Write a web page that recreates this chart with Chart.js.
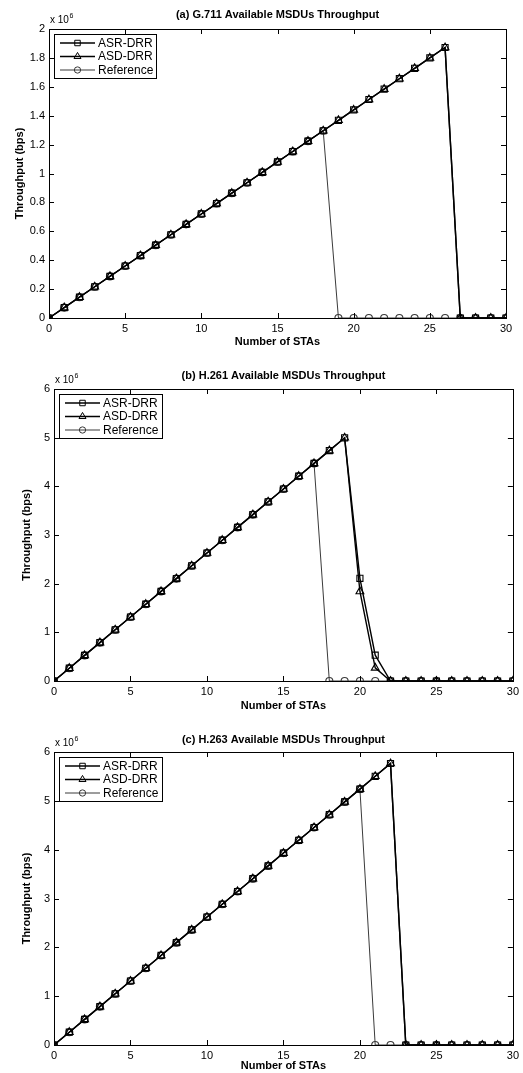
<!DOCTYPE html>
<html>
<head>
<meta charset="utf-8">
<script src="https://cdn.jsdelivr.net/npm/chart.js@4/dist/chart.umd.min.js"></script>
<style>
  html, body { margin: 0; padding: 0; background: #fff; }
  body { width: 523px; height: 1073px; position: relative; overflow: hidden; }
  .box { position: absolute; left: 0; width: 523px; }
</style>
</head>
<body>
<div class="box" style="top:0px;height:355px"><canvas id="cA"></canvas></div>
<div class="box" style="top:360px;height:360px"><canvas id="cB"></canvas></div>
<div class="box" style="top:720px;height:353px"><canvas id="cC"></canvas></div>
<script>
// ---------------- DATA ----------------
const staCounts = [0,1,2,3,4,5,6,7,8,9,10,11,12,13,14,15,16,17,18,19,20,21,22,23,24,25,26,27,28,29,30];
const xTickValues = [0,5,10,15,20,25,30];
const seriesNames = ['ASR-DRR','ASD-DRR','Reference'];

// (a) G.711
const g711Title = '(a) G.711 Available MSDUs Throughput';
const g711Asr = [0,72000,144000,216000,288000,360000,432000,504000,576000,648000,720000,792000,864000,936000,1008000,1080000,1152000,1224000,1296000,1368000,1440000,1512000,1584000,1656000,1728000,1800000,1872000,0,0,0,0];
const g711Asd = [0,72000,144000,216000,288000,360000,432000,504000,576000,648000,720000,792000,864000,936000,1008000,1080000,1152000,1224000,1296000,1368000,1440000,1512000,1584000,1656000,1728000,1800000,1872000,0,0,0,0];
const g711Ref = [0,72000,144000,216000,288000,360000,432000,504000,576000,648000,720000,792000,864000,936000,1008000,1080000,1152000,1224000,1296000,0,0,0,0,0,0,0,0,0,0,0,0];
const g711YTicks = [0,200000,400000,600000,800000,1000000,1200000,1400000,1600000,1800000,2000000];
const g711YLabels = ['0','0.2','0.4','0.6','0.8','1','1.2','1.4','1.6','1.8','2'];

// (b) H.261
const h261Title = '(b) H.261 Available MSDUs Throughput';
const h261Asr = [0,263000,526000,789000,1052000,1315000,1578000,1841000,2104000,2367000,2630000,2893000,3156000,3419000,3682000,3945000,4208000,4471000,4734000,4997000,2110000,530000,0,0,0,0,0,0,0,0,0];
const h261Asd = [0,263000,526000,789000,1052000,1315000,1578000,1841000,2104000,2367000,2630000,2893000,3156000,3419000,3682000,3945000,4208000,4471000,4734000,4997000,1840000,270000,0,0,0,0,0,0,0,0,0];
const h261Ref = [0,263000,526000,789000,1052000,1315000,1578000,1841000,2104000,2367000,2630000,2893000,3156000,3419000,3682000,3945000,4208000,4471000,0,0,0,0,0,0,0,0,0,0,0,0,0];
const h261YTicks = [0,1000000,2000000,3000000,4000000,5000000,6000000];
const h261YLabels = ['0','1','2','3','4','5','6'];

// (c) H.263
const h263Title = '(c) H.263 Available MSDUs Throughput';
const h263Asr = [0,262000,524000,786000,1048000,1310000,1572000,1834000,2096000,2358000,2620000,2882000,3144000,3406000,3668000,3930000,4192000,4454000,4716000,4978000,5240000,5502000,5764000,0,0,0,0,0,0,0,0];
const h263Asd = [0,262000,524000,786000,1048000,1310000,1572000,1834000,2096000,2358000,2620000,2882000,3144000,3406000,3668000,3930000,4192000,4454000,4716000,4978000,5240000,5502000,5764000,0,0,0,0,0,0,0,0];
const h263Ref = [0,262000,524000,786000,1048000,1310000,1572000,1834000,2096000,2358000,2620000,2882000,3144000,3406000,3668000,3930000,4192000,4454000,4716000,4978000,5240000,0,0,0,0,0,0,0,0,0,0];
const h263YTicks = [0,1000000,2000000,3000000,4000000,5000000,6000000];
const h263YLabels = ['0','1','2','3','4','5','6'];

const xLabel = 'Number of STAs';
const yLabel = 'Throughput (bps)';
const exponentText = 'x 10';
const exponentSup = '6';

// ---------------- RENDERING ----------------
const FONT = '"Liberation Sans", Arial, Helvetica, sans-serif';
const styles = [
  { pointStyle: 'rect', radius: 4.3, color: '#000', width: 1.4 },
  { pointStyle: 'triangle', radius: 4.5, color: '#000', width: 1.4 },
  { pointStyle: 'circle', radius: 3.5, color: '#3a3a3a', width: 1 }
];

function drawMarker(ctx, style, x, y, r) {
  ctx.beginPath();
  if (style === 'rect') {
    const s = r * Math.SQRT1_2;
    ctx.rect(x - s, y - s, 2 * s, 2 * s);
  } else if (style === 'triangle') {
    ctx.moveTo(x, y - r);
    ctx.lineTo(x + r * 0.866, y + r * 0.5);
    ctx.lineTo(x - r * 0.866, y + r * 0.5);
    ctx.closePath();
  } else {
    ctx.arc(x, y, r, 0, Math.PI * 2);
  }
  ctx.stroke();
}

function makeChart(id, cfg) {
  const canvas = document.getElementById(id);
  const decoPlugin = {
    id: 'deco' + id,
    afterDraw(chart) {
      const ctx = chart.ctx;
      const a = chart.chartArea;
      const xs = chart.scales.x, ys = chart.scales.y;
      ctx.save();
      ctx.strokeStyle = '#000';
      ctx.lineWidth = 1;
      // box
      ctx.strokeRect(Math.round(a.left) + 0.5, Math.round(a.top) + 0.5,
        Math.round(a.right - a.left), Math.round(a.bottom - a.top));
      // inward ticks
      ctx.beginPath();
      cfg.xTicks.forEach(v => {
        const px = Math.round(xs.getPixelForValue(v)) + 0.5;
        ctx.moveTo(px, a.bottom); ctx.lineTo(px, a.bottom - 5);
        ctx.moveTo(px, a.top); ctx.lineTo(px, a.top + 5);
      });
      cfg.yTicks.forEach(v => {
        const py = Math.round(ys.getPixelForValue(v)) + 0.5;
        ctx.moveTo(a.left, py); ctx.lineTo(a.left + 5, py);
        ctx.moveTo(a.right, py); ctx.lineTo(a.right - 5, py);
      });
      ctx.stroke();
      // title
      ctx.fillStyle = '#000';
      ctx.font = 'bold 11px ' + FONT;
      ctx.textAlign = 'center';
      ctx.textBaseline = 'middle';
      ctx.fillText(cfg.title, (a.left + a.right) / 2, a.top - cfg.titleOffset);
      // exponent
      ctx.textAlign = 'left';
      ctx.textBaseline = 'alphabetic';
      ctx.font = '10px ' + FONT;
      ctx.fillText(exponentText, a.left + 1, a.top - 6);
      const w = ctx.measureText(exponentText).width;
      ctx.font = '7px ' + FONT;
      ctx.fillText(exponentSup, a.left + 1 + w + 0.5, a.top - 11);
      // legend
      const lx = a.left + 5, ly = a.top + 5, lw = cfg.legendW, lh = 44;
      ctx.fillStyle = '#fff';
      ctx.fillRect(lx, ly, lw, lh);
      ctx.strokeStyle = '#000';
      ctx.lineWidth = 1;
      ctx.strokeRect(Math.round(lx) + 0.5, Math.round(ly) + 0.5, lw, lh);
      ctx.font = '12px ' + FONT;
      ctx.textBaseline = 'middle';
      seriesNames.forEach((name, i) => {
        const st = styles[i];
        const yy = ly + 9 + i * 13.5;
        ctx.strokeStyle = st.color;
        ctx.lineWidth = st.width;
        ctx.beginPath();
        ctx.moveTo(lx + 6, yy); ctx.lineTo(lx + 41, yy);
        ctx.stroke();
        ctx.lineWidth = 1;
        drawMarker(ctx, st.pointStyle, lx + 23.5, yy, st.radius * 0.9);
        ctx.fillStyle = '#000';
        ctx.fillText(name, lx + 44, yy + 0.5);
      });
      ctx.restore();
    }
  };
  const datasets = [cfg.asr, cfg.asd, cfg.ref].map((arr, i) => ({
    label: seriesNames[i],
    data: arr,
    borderColor: styles[i].color,
    borderWidth: styles[i].width,
    pointStyle: styles[i].pointStyle,
    pointRadius: styles[i].radius,
    pointBorderWidth: 1.1,
    pointBorderColor: styles[i].color,
    pointBackgroundColor: 'rgba(255,255,255,0)',
    backgroundColor: 'rgba(255,255,255,0)',
    tension: 0,
    fill: false
  }));
  return new Chart(canvas, {
    type: 'line',
    data: { labels: staCounts, datasets },
    options: {
      responsive: true,
      maintainAspectRatio: false,
      animation: false,
      events: [],
      layout: { padding: { top: cfg.padTop, right: cfg.padRight, left: 0, bottom: 0 } },
      plugins: { legend: { display: false }, title: { display: false }, tooltip: { enabled: false } },
      scales: {
        x: {
          type: 'linear', min: 0, max: 30,
          afterBuildTicks(s) { s.ticks = xTickValues.map(v => ({ value: v })); },
          afterFit(s) { s.height = cfg.xAxisH; },
          grid: { display: false, drawTicks: false },
          border: { display: false },
          ticks: { color: '#000', font: { family: FONT, size: 11 }, padding: 4, maxRotation: 0,
                   callback: v => String(v) },
          title: { display: true, text: xLabel, color: '#000', font: { family: FONT, size: 11, weight: 'bold' },
                   padding: { top: 0, bottom: cfg.xTitlePad } }
        },
        y: {
          type: 'linear', min: 0, max: cfg.yTicks[cfg.yTicks.length - 1],
          afterBuildTicks(s) { s.ticks = cfg.yTicks.map(v => ({ value: v })); },
          afterFit(s) { s.width = cfg.yAxisW; },
          grid: { display: false, drawTicks: false },
          border: { display: false },
          ticks: { color: '#000', font: { family: FONT, size: 11 }, padding: 4,
                   callback: (v) => { const k = cfg.yTicks.indexOf(v); return k >= 0 ? cfg.yLabels[k] : ''; } },
          title: { display: true, text: yLabel, color: '#000', font: { family: FONT, size: 11, weight: 'bold' },
                   padding: { top: cfg.yTitlePad, bottom: 0 } }
        }
      }
    },
    plugins: [decoPlugin]
  });
}

makeChart('cA', { title: g711Title, asr: g711Asr, asd: g711Asd, ref: g711Ref, yTicks: g711YTicks, yLabels: g711YLabels,
  xTicks: xTickValues, padTop: 29, padRight: 17, yAxisW: 49, xAxisH: 37, xTitlePad: 6, yTitlePad: 13,
  titleOffset: 14, legendW: 102 });
makeChart('cB', { title: h261Title, asr: h261Asr, asd: h261Asd, ref: h261Ref, yTicks: h261YTicks, yLabels: h261YLabels,
  xTicks: xTickValues, padTop: 29, padRight: 9, yAxisW: 54, xAxisH: 39, xTitlePad: 7, yTitlePad: 20,
  titleOffset: 13, legendW: 103 });
makeChart('cC', { title: h263Title, asr: h263Asr, asd: h263Asd, ref: h263Ref, yTicks: h263YTicks, yLabels: h263YLabels,
  xTicks: xTickValues, padTop: 32, padRight: 10, yAxisW: 54, xAxisH: 28, xTitlePad: 0, yTitlePad: 20,
  titleOffset: 12, legendW: 103 });
</script>
</body>
</html>
